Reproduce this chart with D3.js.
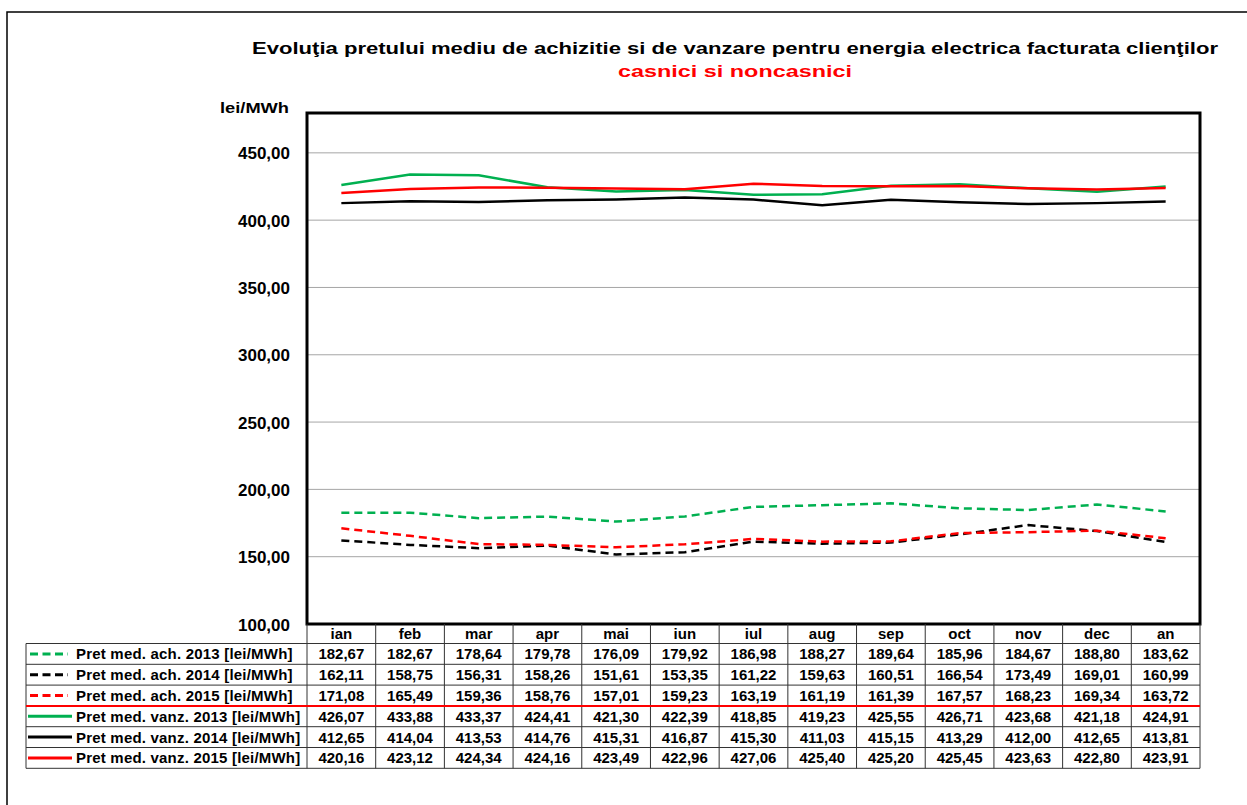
<!DOCTYPE html>
<html>
<head>
<meta charset="utf-8">
<script src="https://cdn.jsdelivr.net/npm/d3@7"></script>
<style>
  body { margin: 0; background: #fff; }
  svg { font-family: "Liberation Sans", Arial, sans-serif; }
</style>
</head>
<body>
<svg id="chart" width="1247" height="805"></svg>
<script>
const months = ["ian", "feb", "mar", "apr", "mai", "iun", "iul", "aug", "sep", "oct", "nov", "dec", "an"];
const seriesNames = [
  "Pret med. ach. 2013 [lei/MWh]",
  "Pret med. ach. 2014 [lei/MWh]",
  "Pret med. ach. 2015 [lei/MWh]",
  "Pret med. vanz. 2013 [lei/MWh]",
  "Pret med. vanz. 2014 [lei/MWh]",
  "Pret med. vanz. 2015 [lei/MWh]"
];
const ach2013 = [182.67, 182.67, 178.64, 179.78, 176.09, 179.92, 186.98, 188.27, 189.64, 185.96, 184.67, 188.80, 183.62];
const ach2014 = [162.11, 158.75, 156.31, 158.26, 151.61, 153.35, 161.22, 159.63, 160.51, 166.54, 173.49, 169.01, 160.99];
const ach2015 = [171.08, 165.49, 159.36, 158.76, 157.01, 159.23, 163.19, 161.19, 161.39, 167.57, 168.23, 169.34, 163.72];
const vanz2013 = [426.07, 433.88, 433.37, 424.41, 421.30, 422.39, 418.85, 419.23, 425.55, 426.71, 423.68, 421.18, 424.91];
const vanz2014 = [412.65, 414.04, 413.53, 414.76, 415.31, 416.87, 415.30, 411.03, 415.15, 413.29, 412.00, 412.65, 413.81];
const vanz2015 = [420.16, 423.12, 424.34, 424.16, 423.49, 422.96, 427.06, 425.40, 425.20, 425.45, 423.63, 422.80, 423.91];
const yTicks = [100, 150, 200, 250, 300, 350, 400, 450];

const series = [
  { name: seriesNames[0], values: ach2013, color: "#00b050", dash: "8,5" },
  { name: seriesNames[1], values: ach2014, color: "#000000", dash: "8,5" },
  { name: seriesNames[2], values: ach2015, color: "#ff0000", dash: "8,5" },
  { name: seriesNames[3], values: vanz2013, color: "#00b050", dash: null },
  { name: seriesNames[4], values: vanz2014, color: "#000000", dash: null },
  { name: seriesNames[5], values: vanz2015, color: "#ff0000", dash: null }
];

const svg = d3.select("#chart");
const fmt = v => d3.format(".2f")(v).replace(".", ",");

// outer frame
svg.append("path")
  .attr("d", "M7,812 L7,12 L1260,12")
  .attr("fill", "none").attr("stroke", "#000").attr("stroke-width", 1.5);

const pLeft = 307, pRight = 1200, pTop = 113, pBottom = 624;
const x = d3.scaleBand().domain(months).range([pLeft, pRight]);
const y = d3.scaleLinear().domain([100, 479.6]).range([pBottom, pTop]);

// title
const title = svg.append("text").attr("x", 735).attr("text-anchor", "middle")
  .attr("font-weight", "bold").attr("font-size", 17);
title.append("tspan").attr("x", 735).attr("y", 54).attr("fill", "#000")
  .attr("textLength", 966).attr("lengthAdjust", "spacingAndGlyphs")
  .text("Evoluţia pretului mediu de achizitie si de vanzare pentru energia electrica facturata clienţilor");
title.append("tspan").attr("x", 735).attr("y", 77).attr("fill", "#ff0000")
  .attr("textLength", 234).attr("lengthAdjust", "spacingAndGlyphs")
  .text("casnici si noncasnici");

// grid
svg.append("g").selectAll("line").data(yTicks.slice(1)).join("line")
  .attr("x1", pLeft).attr("x2", pRight)
  .attr("y1", d => y(d)).attr("y2", d => y(d))
  .attr("stroke", "#a6a6a6").attr("stroke-width", 1);

// y axis labels
const yAxis = svg.append("g").attr("transform", `translate(${pLeft - 17},0)`)
  .call(d3.axisLeft(y).tickValues(yTicks).tickFormat(fmt).tickSize(0).tickPadding(0));
yAxis.select(".domain").remove();
yAxis.selectAll("text").attr("font-family", "Liberation Sans, Arial, sans-serif")
  .attr("font-size", 17).attr("font-weight", "bold").attr("fill", "#000")
  .attr("dy", "0.36em");

svg.append("text").attr("x", 220).attr("y", 113)
  .attr("font-size", 15).attr("font-weight", "bold")
  .attr("textLength", 69).attr("lengthAdjust", "spacingAndGlyphs").text("lei/MWh");

// lines
const line = d3.line().x((d, i) => x(months[i]) + x.bandwidth() / 2).y(d => y(d));
svg.append("g").selectAll("path").data(series).join("path")
  .attr("d", d => line(d.values))
  .attr("fill", "none")
  .attr("stroke", d => d.color)
  .attr("stroke-width", 2.5)
  .attr("stroke-dasharray", d => d.dash);

// plot frame
svg.append("rect").attr("x", pLeft).attr("y", pTop)
  .attr("width", pRight - pLeft).attr("height", pBottom - pTop)
  .attr("fill", "none").attr("stroke", "#000").attr("stroke-width", 3);

// data table
const rowH = 20.8, headTop = pBottom, bodyTop = pBottom + 19.5, legLeft = 26;
const tbl = svg.append("g").attr("font-weight", "bold").attr("font-size", 15);

// header
tbl.selectAll(".hd").data(months).join("text")
  .attr("x", d => x(d) + x.bandwidth() / 2).attr("y", headTop + 15)
  .attr("text-anchor", "middle").text(d => d);

const rows = tbl.selectAll(".row").data(series).join("g")
  .attr("transform", (d, i) => `translate(0,${bodyTop + i * rowH})`);

rows.append("line").attr("x1", d => d.dash ? 30 : 28).attr("x2", d => d.dash ? 68 : 72)
  .attr("y1", rowH / 2).attr("y2", rowH / 2)
  .attr("stroke", d => d.color).attr("stroke-width", 3)
  .attr("stroke-dasharray", d => d.dash ? "8,4.5" : null);
rows.append("text").attr("x", 76).attr("y", rowH / 2 + 5.5)
  .attr("letter-spacing", 0.2)
  .text(d => d.name);
rows.selectAll(".v").data(d => d.values).join("text")
  .attr("x", (d, i) => x(months[i]) + x.bandwidth() / 2).attr("y", rowH / 2 + 5.5)
  .attr("text-anchor", "middle").text(d => fmt(d));

// table grid
const grid = svg.append("g").attr("stroke", "#333").attr("stroke-width", 1).attr("fill", "none");
const bodyBottom = bodyTop + series.length * rowH;
months.forEach((m, i) => {
  grid.append("line").attr("x1", x(m)).attr("x2", x(m)).attr("y1", headTop).attr("y2", bodyBottom);
});
grid.append("line").attr("x1", pRight).attr("x2", pRight).attr("y1", headTop).attr("y2", bodyBottom);
grid.append("line").attr("x1", legLeft).attr("x2", legLeft).attr("y1", bodyTop).attr("y2", bodyBottom);
d3.range(series.length + 1).forEach(i => {
  grid.append("line").attr("x1", legLeft).attr("x2", pRight)
    .attr("y1", bodyTop + i * rowH).attr("y2", bodyTop + i * rowH);
});
// red separator under the purchase rows
svg.append("line").attr("x1", legLeft).attr("x2", pRight)
  .attr("y1", bodyTop + 3 * rowH).attr("y2", bodyTop + 3 * rowH)
  .attr("stroke", "#ff0000").attr("stroke-width", 2);
</script>
</body>
</html>
